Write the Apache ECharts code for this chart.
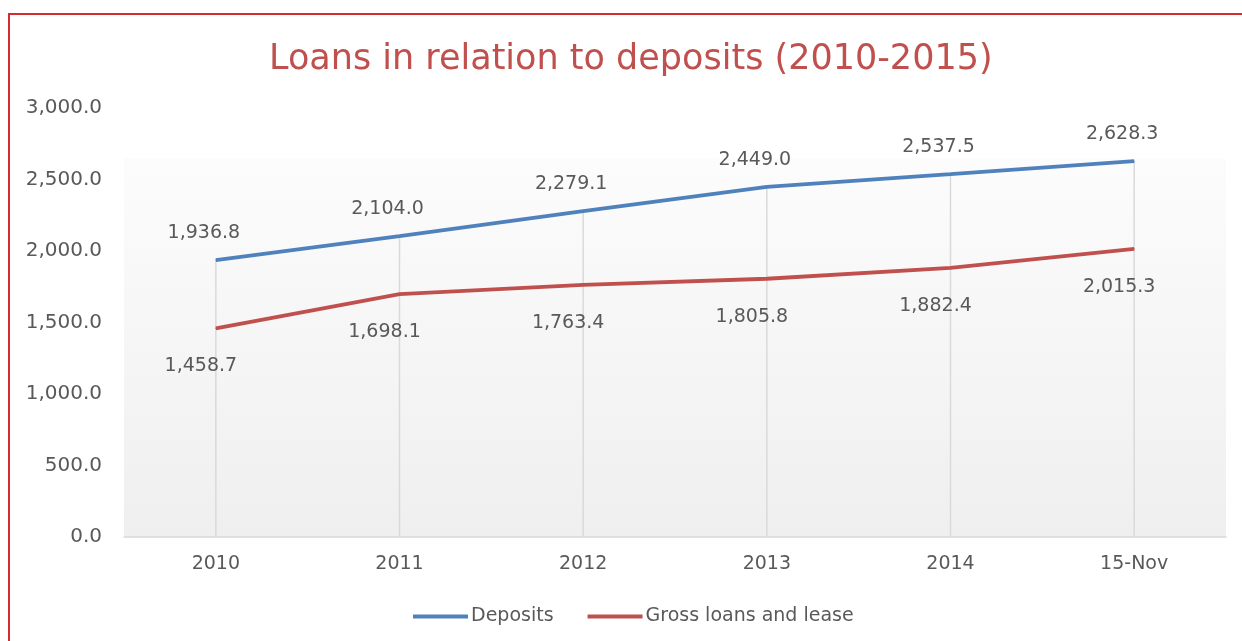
<!DOCTYPE html>
<html>
<head>
<meta charset="utf-8">
<script src="https://cdn.jsdelivr.net/npm/echarts@6/dist/echarts.min.js"></script>
<style>
html,body{margin:0;padding:0;background:#fff;overflow:hidden;}
#chart{width:1242px;height:641px;}
#frame{position:absolute;left:8px;top:13px;width:1300px;height:700px;border-top:2px solid #d52b33;border-left:2px solid #d52b33;pointer-events:none;}
</style>
</head>
<body>
<div id="chart"></div>
<div id="frame"></div>
<script>
const categories = ['2010', '2011', '2012', '2013', '2014', '15-Nov'];
const deposits = [1936.8, 2104.0, 2279.1, 2449.0, 2537.5, 2628.3];
const loans = [1458.7, 1698.1, 1763.4, 1805.8, 1882.4, 2015.3];
const seriesNames = ['Deposits', 'Gross loans and lease'];

const fmt = v => Number(v).toLocaleString('en-US', {minimumFractionDigits: 1, maximumFractionDigits: 1});
const FONT = '"DejaVu Sans", sans-serif';

const chart = echarts.init(document.getElementById('chart'));
chart.setOption({
  animation: false,
  textStyle: {fontFamily: FONT},
  title: {
    text: 'Loans in relation to deposits (2010-2015)',
    left: 264,
    top: 37,
    textStyle: {color: '#c0504d', fontSize: 35, fontWeight: 'normal', fontFamily: FONT}
  },
  grid: {
    left: 124, right: 16, top: 108, bottom: 104,
    show: true,
    borderWidth: 0,
    backgroundColor: new echarts.graphic.LinearGradient(0, 0, 0, 1, [
      {offset: 0, color: '#ffffff'},
      {offset: 0.115, color: '#ffffff'},
      {offset: 0.118, color: '#fcfcfc'},
      {offset: 1, color: '#efefef'}
    ])
  },
  legend: {
    left: 408,
    top: 602,
    icon: 'rect',
    itemWidth: 55,
    itemHeight: 4,
    itemGap: 34,
    textStyle: {color: '#595959', fontSize: 19, fontFamily: FONT, padding: [0, 0, 0, -2]},
    data: seriesNames
  },
  xAxis: {
    type: 'category',
    data: categories,
    boundaryGap: true,
    axisLine: {lineStyle: {color: '#d9d9d9', width: 1.5}},
    axisTick: {show: false},
    axisLabel: {color: '#595959', fontSize: 19, margin: 18, fontFamily: FONT},
    splitLine: {show: false}
  },
  yAxis: {
    type: 'value',
    min: 0, max: 3000, interval: 500,
    axisLine: {show: false},
    axisTick: {show: false},
    splitLine: {show: false},
    axisLabel: {color: '#595959', fontSize: 20, margin: 22, formatter: fmt, fontFamily: FONT}
  },
  series: [
    {
      name: seriesNames[0],
      type: 'line',
      data: deposits,
      symbol: 'circle',
      symbolSize: 1,
      showSymbol: true,
      lineStyle: {color: '#4f81bd', width: 3.8},
      itemStyle: {color: '#4f81bd'},
      label: {show: true, position: 'top', distance: 17, offset: [-12, 0], color: '#595959', fontSize: 19, formatter: p => fmt(p.value), fontFamily: FONT},
      z: 3
    },
    {
      name: seriesNames[1],
      type: 'line',
      data: loans,
      symbol: 'circle',
      symbolSize: 1,
      showSymbol: true,
      lineStyle: {color: '#c0504d', width: 3.8},
      itemStyle: {color: '#c0504d'},
      label: {show: true, position: 'bottom', distance: 28, offset: [-15, 0], color: '#595959', fontSize: 19, formatter: p => fmt(p.value), fontFamily: FONT},
      z: 3
    },
    {
      name: 'drop-lines',
      type: 'bar',
      data: deposits,
      barWidth: 1.5,
      itemStyle: {color: '#d9d9d9'},
      silent: true,
      z: 1,
      legendHoverLink: false,
      tooltip: {show: false}
    }
  ]
});
</script>
</body>
</html>
